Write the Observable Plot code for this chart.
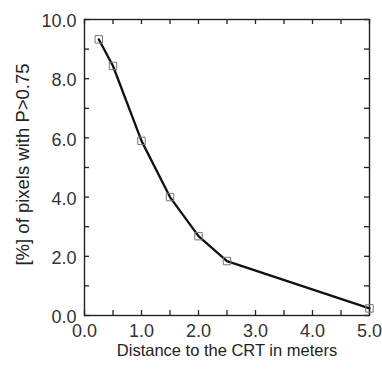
<!DOCTYPE html>
<html>
<head>
<meta charset="utf-8">
<script src="https://cdn.jsdelivr.net/npm/d3@7"></script>
<script src="https://cdn.jsdelivr.net/npm/@observablehq/plot@0.6"></script>
<style>
  body { margin: 0; background: #fff; }
  #chart svg { display: block; }
</style>
</head>
<body>
<div id="chart"></div>
<script>
const distance = [0.25, 0.5, 1.0, 1.5, 2.0, 2.5, 5.0];
const percent = [9.33, 8.43, 5.9, 4.0, 2.68, 1.84, 0.24];
const xLabelTicks = [0, 1, 2, 3, 4, 5];
const xMinorTicks = [0, 0.5, 1, 1.5, 2, 2.5, 3, 3.5, 4, 4.5, 5];
const yLabelTicks = [0, 2, 4, 6, 8, 10];
const yMinorTicks = [0, 1, 2, 3, 4, 5, 6, 7, 8, 9, 10];
const xTitle = "Distance to the CRT in meters";
const yTitle = "[%] of pixels with P>0.75";

const data = distance.map((d, i) => ({x: d, y: percent[i]}));

const W = 382, H = 370, mL = 84, mR = 13, mT = 19, mB = 55;
const pw = W - mL - mR, ph = H - mT - mB;
const tl = 5;
const fmt = d3.format(".1f");

const chart = Plot.plot({
  width: W,
  height: H,
  marginLeft: mL,
  marginRight: mR,
  marginTop: mT,
  marginBottom: mB,
  style: {fontFamily: "'Liberation Sans', Arial, sans-serif", color: "#333", background: "#fff"},
  x: {domain: [0, 5]},
  y: {domain: [0, 10]},
  marks: [
    Plot.frame({stroke: "#222", strokeWidth: 1.4}),
    Plot.tickX(xMinorTicks, {x: d => d, insetTop: ph - tl, stroke: "#222", strokeWidth: 1.3}),
    Plot.tickX(xMinorTicks, {x: d => d, insetBottom: ph - tl, stroke: "#222", strokeWidth: 1.3}),
    Plot.tickY(yMinorTicks, {y: d => d, insetRight: pw - tl, stroke: "#222", strokeWidth: 1.3}),
    Plot.tickY(yMinorTicks, {y: d => d, insetLeft: pw - tl, stroke: "#222", strokeWidth: 1.3}),
    Plot.axisX(xLabelTicks, {tickSize: 0, tickPadding: 9, tickFormat: fmt, fontSize: 18, label: null, fill: "#333"}),
    Plot.axisY(yLabelTicks, {tickSize: 0, tickPadding: 8, tickFormat: fmt, fontSize: 18, label: null, fill: "#333", dy: 2}),
    Plot.text([xTitle], {frameAnchor: "bottom", dy: 35, fontSize: 16.5, fill: "#222", lineAnchor: "middle"}),
    Plot.text([yTitle], {frameAnchor: "left", rotate: -90, dx: -61, dy: -3, fontSize: 18.5, fill: "#222", textAnchor: "middle"}),
    Plot.line(data, {x: "x", y: "y", curve: "linear", stroke: "#111", strokeWidth: 2.3}),
    Plot.dot(data, {x: "x", y: "y", symbol: "square", r: 4.2, stroke: "#777", strokeWidth: 1, fill: "none"})
  ]
});
document.getElementById("chart").appendChild(chart);
</script>
</body>
</html>
